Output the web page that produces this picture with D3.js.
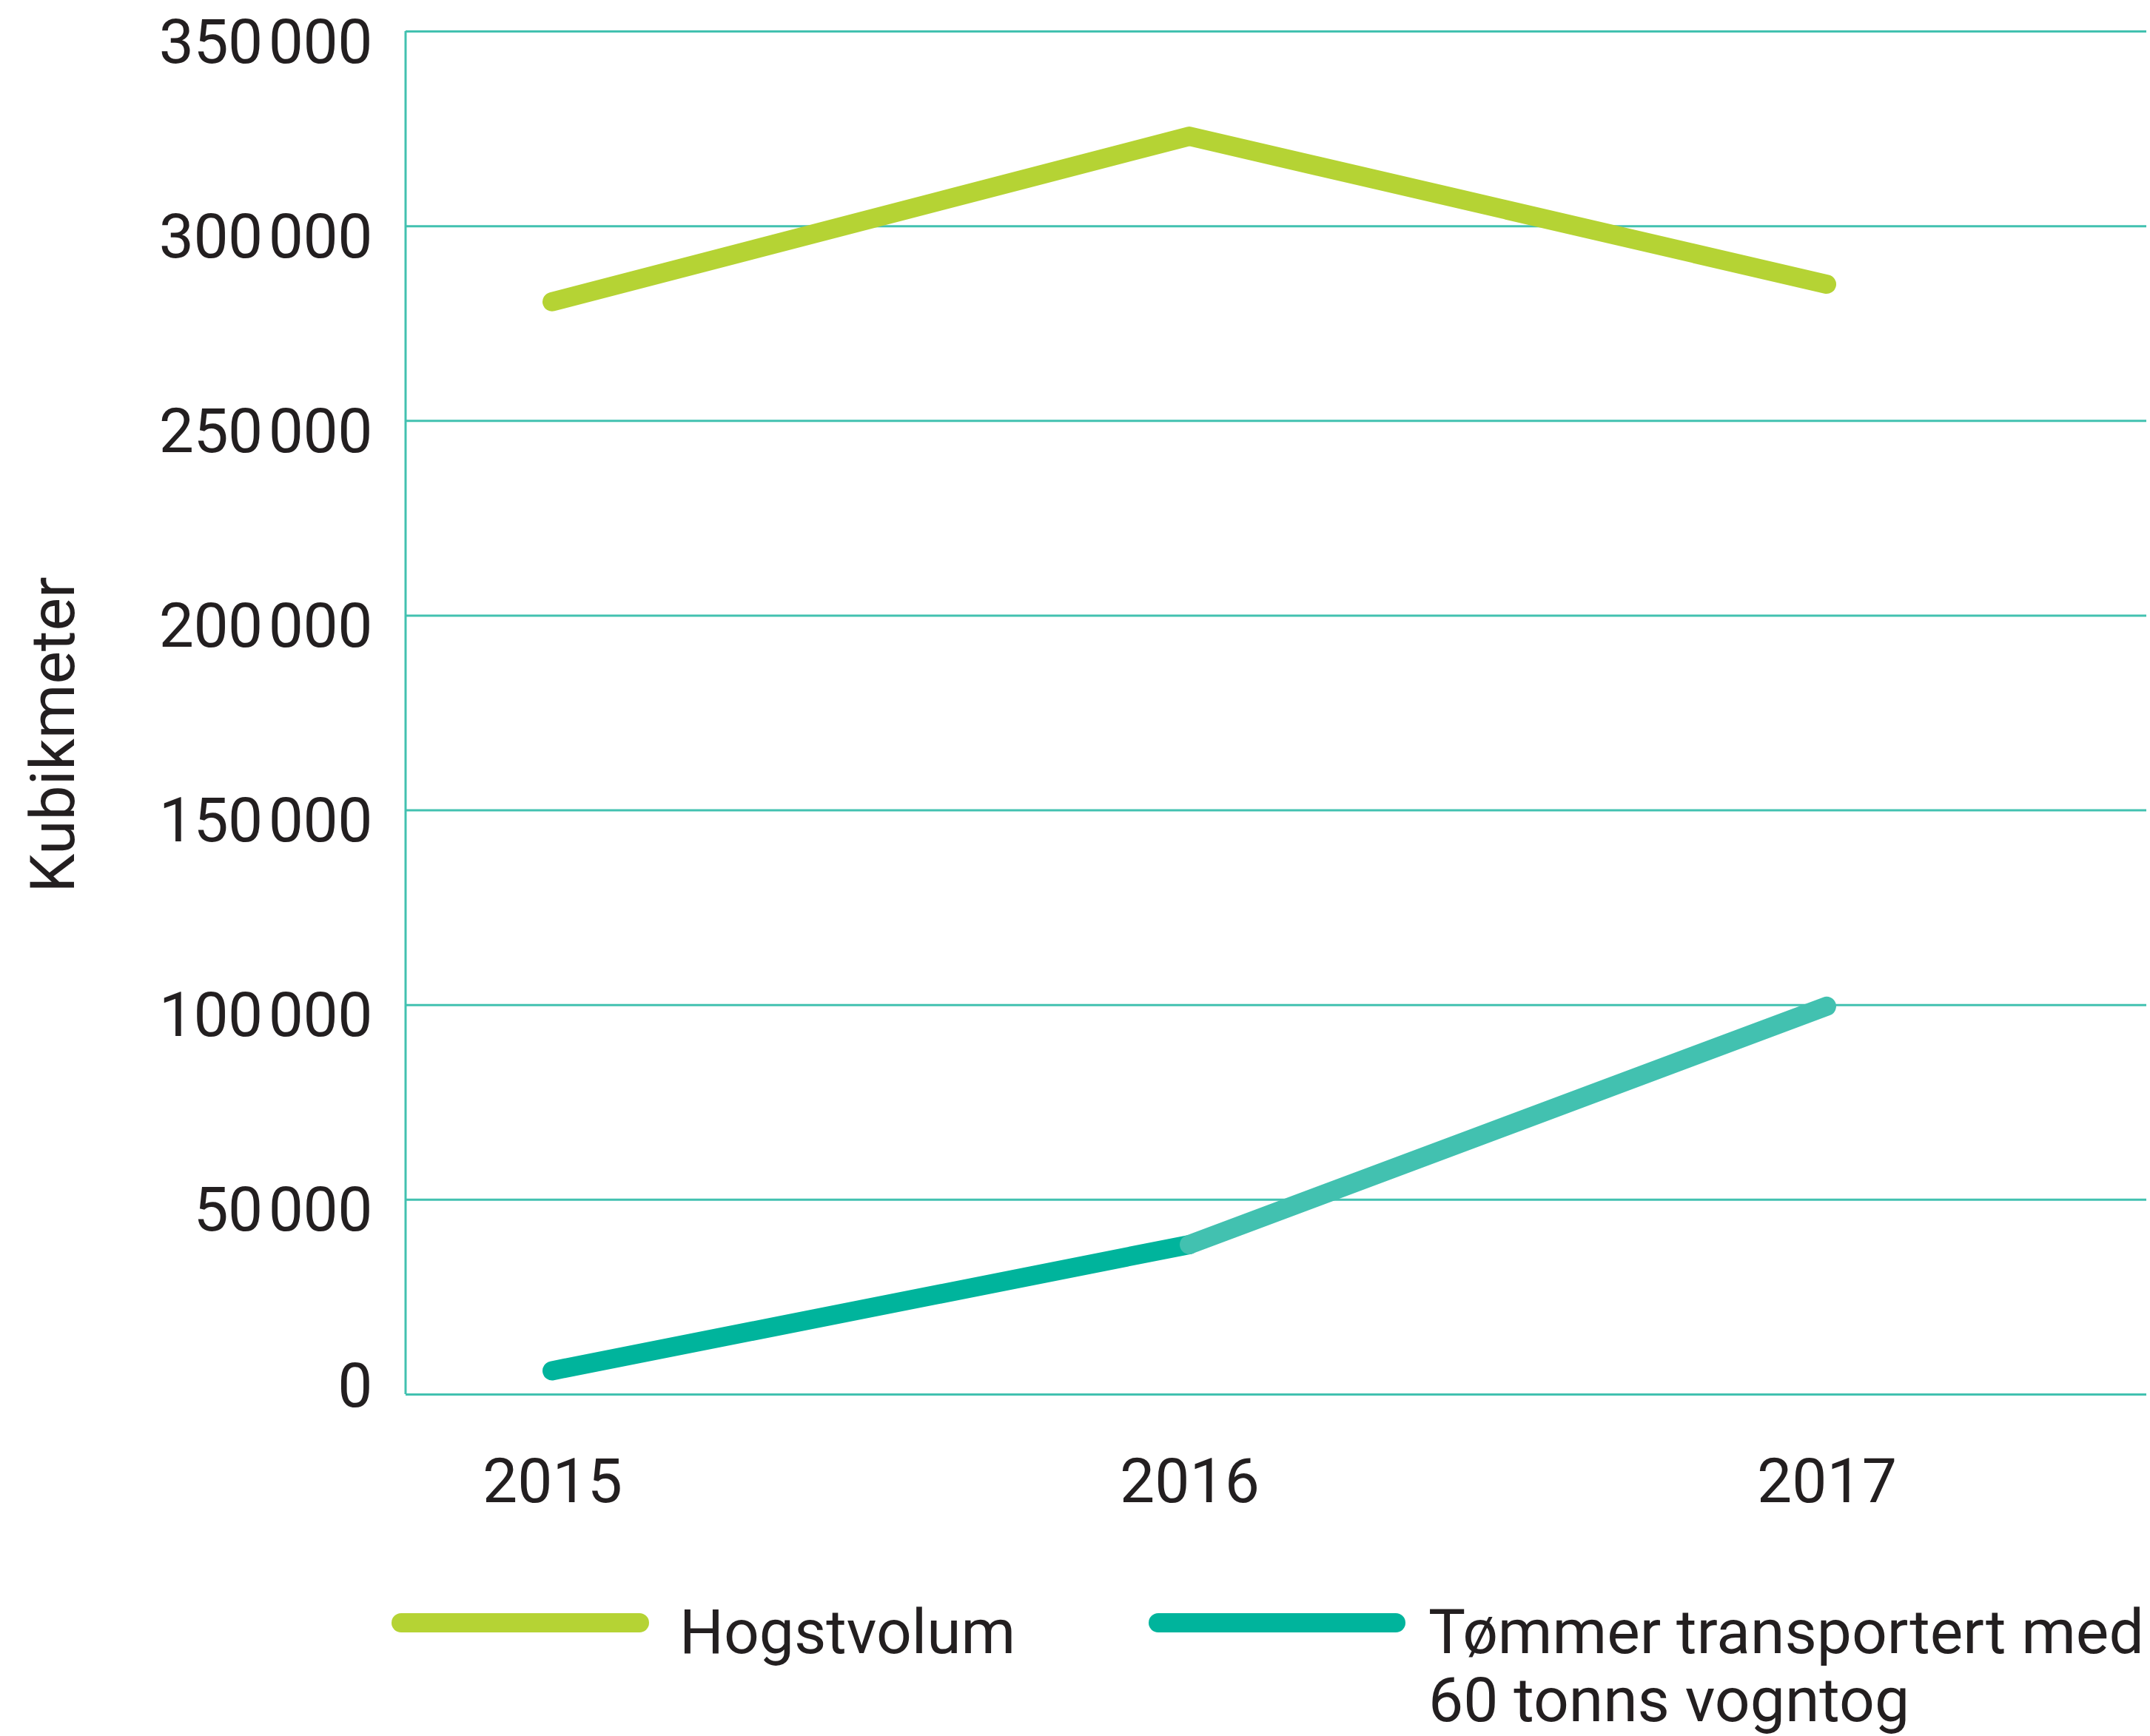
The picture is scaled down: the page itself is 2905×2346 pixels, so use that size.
<!DOCTYPE html>
<html>
<head>
<meta charset="utf-8">
<script src="https://cdn.jsdelivr.net/npm/d3@7"></script>
<style>
  body { margin: 0; background: #fff; }
  text { font-family: Roboto, "Open Sans", sans-serif; fill: #231f20; }
</style>
</head>
<body>
<script>
var width = 2905,
    height = 2346;

// data
var years = ["2015", "2016", "2017"];
var hogstvolum = [280500, 323000, 285000];
var tommer = [6000, 38400, 99600];
var yTicks = [0, 50000, 100000, 150000, 200000, 250000, 300000, 350000];
var legendLabels = [["Hogstvolum"], ["Tømmer transportert med", "60 tonns vogntog"]];
var yTitle = "Kubikmeter";

var green = "#b5d334",
    teal = "#00b49c",
    tealLight = "#42c1b0",
    gridColor = "#42c1b0";

var plotLeft = 548, plotRight = 2900, plotTop = 42, plotBottom = 1884;
var fontSize = 84;

var svg = d3.select("body").append("svg")
    .attr("width", width)
    .attr("height", height);

var x = d3.scalePoint()
    .domain(years)
    .range([746, 2468]);

var y = d3.scaleLinear()
    .domain([0, 350000])
    .range([plotBottom, plotTop]);

var fmt = function(d) { return d3.format(",")(d).replace(/,/g, "\u200A"); };

// gridlines + y labels
var yAxis = svg.append("g")
    .attr("transform", "translate(" + plotLeft + ",0)")
    .call(d3.axisLeft(y)
      .tickValues(yTicks)
      .tickSize(-(plotRight - plotLeft))
      .tickPadding(45)
      .tickFormat(fmt));

yAxis.select(".domain").remove();
yAxis.selectAll(".tick line")
    .attr("stroke", gridColor)
    .attr("stroke-width", 3);
yAxis.selectAll(".tick text")
    .attr("font-size", fontSize)
    .attr("fill", "#231f20")
    .attr("dy", function(d) { return d == 0 ? "0.2em" : "0.5em"; })
    .style("font-family", "Roboto")
    .style("letter-spacing", "-0.5px");

// vertical axis line
svg.append("line")
    .attr("x1", plotLeft).attr("x2", plotLeft)
    .attr("y1", y(350000)).attr("y2", y(0))
    .attr("stroke", gridColor)
    .attr("stroke-width", 3);

// x labels
var xAxis = svg.append("g")
    .attr("transform", "translate(0," + plotBottom + ")")
    .call(d3.axisBottom(x).tickSize(0).tickPadding(86));
xAxis.select(".domain").remove();
xAxis.selectAll(".tick text")
    .attr("font-size", fontSize)
    .attr("fill", "#231f20")
    .style("font-family", "Roboto");

// y title
svg.append("text")
    .attr("transform", "translate(100,993) rotate(-90)")
    .attr("text-anchor", "middle")
    .attr("font-size", fontSize)
    .text(yTitle);

var line = d3.line()
    .x(function(d) { return x(d.year); })
    .y(function(d) { return y(d.value); });

var hogstData = years.map(function(yr, i) { return {year: yr, value: hogstvolum[i]}; });
var tommerData = years.map(function(yr, i) { return {year: yr, value: tommer[i]}; });

svg.append("path")
    .attr("d", line(hogstData))
    .attr("fill", "none")
    .attr("stroke", green)
    .attr("stroke-width", 26)
    .attr("stroke-linecap", "round")
    .attr("stroke-linejoin", "round");

// first segment darker, last segment lighter
svg.append("path")
    .attr("d", line(tommerData.slice(0, 2)))
    .attr("fill", "none")
    .attr("stroke", teal)
    .attr("stroke-width", 26)
    .attr("stroke-linecap", "round");

svg.append("path")
    .attr("d", line(tommerData.slice(1, 3)))
    .attr("fill", "none")
    .attr("stroke", tealLight)
    .attr("stroke-width", 26)
    .attr("stroke-linecap", "round");

// legend
var legendX = [[542, 864, 918], [1565, 1886, 1930]];
var legendColors = [green, teal];

var legend = svg.selectAll(".legend")
    .data(legendLabels)
    .enter().append("g")
      .attr("class", "legend");

legend.append("line")
    .attr("x1", function(d, i) { return legendX[i][0]; })
    .attr("x2", function(d, i) { return legendX[i][1]; })
    .attr("y1", 2193).attr("y2", 2193)
    .attr("stroke", function(d, i) { return legendColors[i]; })
    .attr("stroke-width", 26)
    .attr("stroke-linecap", "round");

legend.each(function(d, i) {
  var t = d3.select(this).append("text")
      .attr("x", legendX[i][2])
      .attr("y", 2234)
      .attr("font-size", fontSize);
  d.forEach(function(s, k) {
    t.append("tspan")
      .attr("x", legendX[i][2])
      .attr("dy", k == 0 ? 0 : 92)
      .text(s);
  });
});
</script>
</body>
</html>
